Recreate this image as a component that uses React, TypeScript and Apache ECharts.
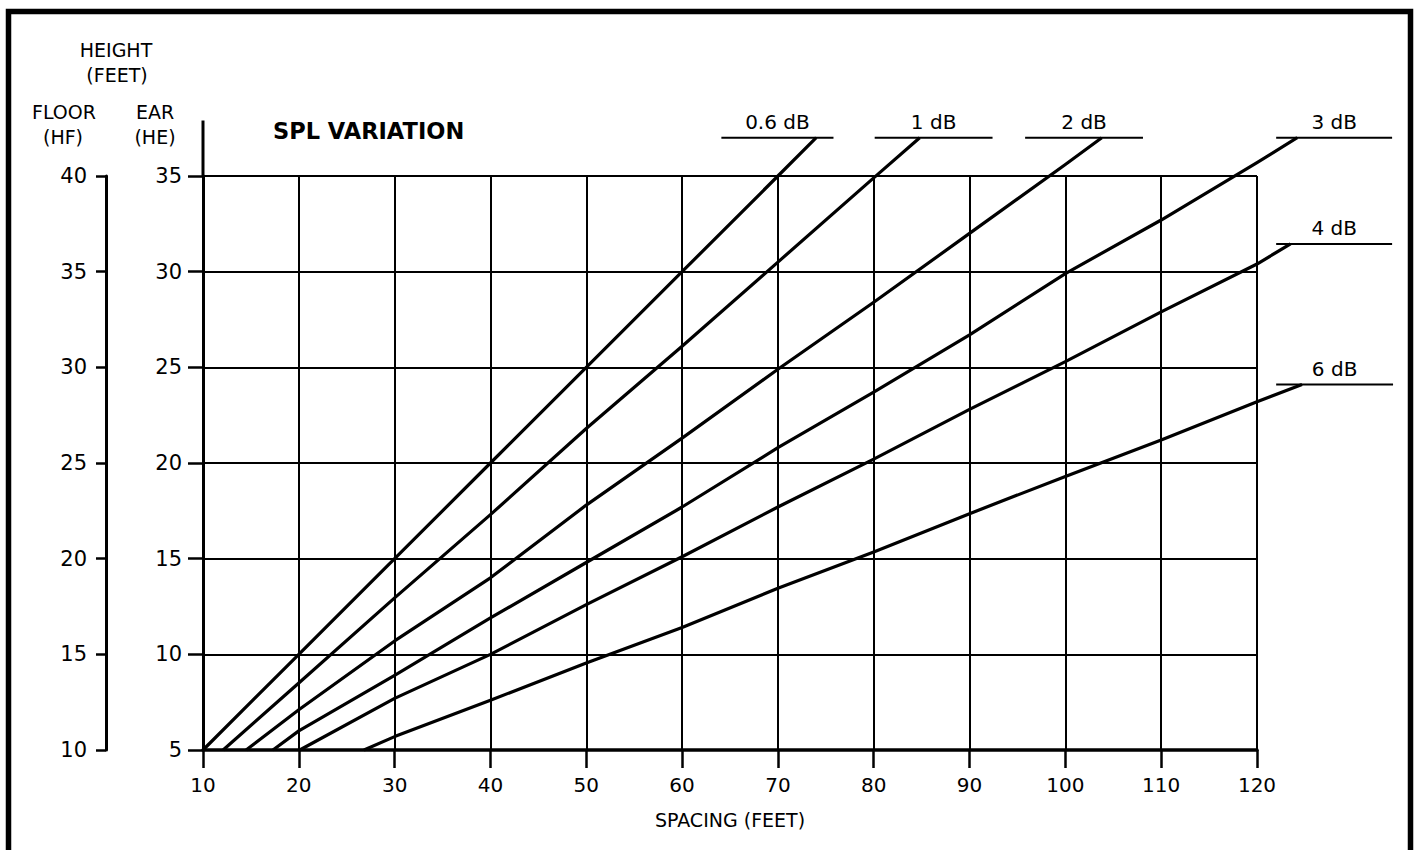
import React, { useEffect, useRef } from "react";
import * as echarts from "echarts";

// Axis ranges
const spacingTicks = { min: 10, max: 120, step: 10 };
const earTicks = { min: 5, max: 35, step: 5 };
const floorTicks = { min: 10, max: 40, step: 5 };

// Curve names
const dbNames = ["0.6 dB", "1 dB", "2 dB", "3 dB", "4 dB", "6 dB"];

// Curve values: [spacing (ft), ear height HE (ft)]
const db06 = [[10, 5], [20, 10], [30, 15], [40, 20], [50, 25], [60, 30], [70, 35], [74, 37]];
const db1 = [[12.1, 5], [20, 8.5], [30, 12.95], [40, 17.3], [50, 21.8], [60, 26.1], [70, 30.5], [80, 34.9], [84.8, 37]];
const db2 = [[14.5, 5], [20, 7.1], [30, 10.7], [40, 14.0], [50, 17.8], [60, 21.3], [70, 24.9], [80, 28.4], [90, 32.0], [100, 35.6], [103.8, 37]];
const db3 = [[17.3, 5], [20, 6.0], [30, 8.9], [40, 11.9], [50, 14.8], [60, 17.7], [70, 20.8], [80, 23.7], [90, 26.7], [100, 29.9], [110, 32.7], [120, 35.7], [124.2, 37]];
const db4 = [[20.1, 5], [30, 7.7], [40, 10.0], [50, 12.6], [60, 15.1], [70, 17.7], [80, 20.2], [90, 22.8], [100, 25.3], [110, 27.9], [120, 30.4], [123.5, 31.45]];
const db6 = [[26.8, 5], [30, 5.7], [40, 7.6], [50, 9.55], [60, 11.4], [70, 13.45], [80, 15.35], [90, 17.35], [100, 19.3], [110, 21.2], [120, 23.2], [124.7, 24.1]];
const curves = [db06, db1, db2, db3, db4, db6];

// Label leader segments: [xStart, xEnd, y]
const labelSegments = [
  [64.1, 75.8, 37],
  [80.1, 92.4, 37],
  [95.8, 108.1, 37],
  [122, 134.1, 37],
  [122, 134.1, 31.45],
  [122, 134.2, 24.1],
];

// Axis line extensions above the grid
const earAxisTop = 37.9;
const floorAxisTop = 43;

const FONT = "DejaVu Sans";

export default function App() {
  const ref = useRef<HTMLDivElement>(null);

  useEffect(() => {
    if (!ref.current) return;
    const chart = echarts.init(ref.current, undefined, { renderer: "svg" });

    const black = "#000";
    const series: any[] = [];

    curves.forEach((data, i) => {
      series.push({
        type: "custom",
        name: dbNames[i],
        coordinateSystem: "cartesian2d",
        clip: false,
        z: 5,
        encode: { x: 0, y: 1 },
        data,
        renderItem: (params: any, api: any) => {
          if (params.dataIndex !== 0) return null;
          const pts = data.map((p) => api.coord(p));
          return {
            type: "polyline",
            shape: { points: pts },
            style: { stroke: black, lineWidth: 3.2, fill: "none", lineJoin: "round" },
          };
        },
      });
    });

    series.push({
      type: "custom",
      name: "labels",
      coordinateSystem: "cartesian2d",
      clip: false,
      z: 6,
      encode: { x: [0, 1], y: 2 },
      data: labelSegments,
      renderItem: (params: any, api: any) => {
        const x0 = api.value(0);
        const x1 = api.value(1);
        const y = api.value(2);
        const a = api.coord([x0, y]);
        const b = api.coord([x1, y]);
        return {
          type: "group",
          children: [
            {
              type: "line",
              shape: { x1: a[0], y1: a[1], x2: b[0], y2: b[1] },
              style: { stroke: black, lineWidth: 2 },
            },
            {
              type: "text",
              x: (a[0] + b[0]) / 2,
              y: a[1] - 6,
              style: {
                text: dbNames[params.dataIndex],
                fill: black,
                fontSize: 20,
                fontFamily: FONT,
                align: "center",
                verticalAlign: "bottom",
              },
            },
          ],
        };
      },
    });

    // Ear axis extension
    series.push({
      type: "line",
      data: [[spacingTicks.min, earTicks.max], [spacingTicks.min, earAxisTop]],
      symbol: "none",
      clip: false,
      lineStyle: { color: black, width: 3 },
    });
    // Floor axis extension
    series.push({
      type: "line",
      yAxisIndex: 1,
      data: [[0, floorTicks.max], [0, floorAxisTop]],
      symbol: "none",
      clip: false,
      lineStyle: { color: black, width: 3 },
    });

    const headerStyle = (text: string) => ({
      text,
      fontFamily: FONT,
      fontSize: 19,
      fill: black,
      align: "center",
      verticalAlign: "middle",
    });

    const option: any = {
      animation: false,
      backgroundColor: "#fff",
      title: {
        text: "SPL VARIATION",
        left: 273,
        top: 119,
        padding: 0,
        textStyle: { fontFamily: FONT, fontWeight: "bold", fontSize: 22.5, color: black },
      },
      grid: { left: 203, right: 160, top: 176, bottom: 100, containLabel: false },
      xAxis: {
        type: "value",
        min: spacingTicks.min,
        max: spacingTicks.max,
        interval: spacingTicks.step,
        name: "SPACING (FEET)",
        nameLocation: "middle",
        nameGap: 60,
        nameTextStyle: { fontFamily: FONT, fontSize: 19, color: black },
        axisLine: { show: true, lineStyle: { color: black, width: 3.5 } },
        axisTick: { show: true, length: 18, lineStyle: { color: black, width: 2.5 } },
        axisLabel: { color: black, fontSize: 20, fontFamily: FONT, margin: 25 },
        splitLine: { show: true, lineStyle: { color: black, width: 2 } },
      },
      yAxis: [
        {
          type: "value",
          position: "left",
          min: earTicks.min,
          max: earTicks.max,
          interval: earTicks.step,
          axisLine: { show: true, lineStyle: { color: black, width: 3 } },
          axisTick: { show: true, length: 15, lineStyle: { color: black, width: 2.5 } },
          axisLabel: { color: black, fontSize: 21, fontFamily: FONT, margin: 21 },
          splitLine: { show: true, lineStyle: { color: black, width: 2 } },
        },
        {
          type: "value",
          position: "left",
          offset: 97,
          min: floorTicks.min,
          max: floorTicks.max,
          interval: floorTicks.step,
          axisLine: { show: true, onZero: false, lineStyle: { color: black, width: 3 } },
          axisTick: { show: true, length: 10, lineStyle: { color: black, width: 2.5 } },
          axisLabel: { color: black, fontSize: 21, fontFamily: FONT, margin: 19 },
          splitLine: { show: false },
        },
      ],
      graphic: [
        {
          type: "rect",
          shape: { x: 8.5, y: 11.5, width: 1402, height: 900 },
          style: { fill: "none", stroke: black, lineWidth: 5.5 },
          silent: true,
        },
        { type: "text", x: 116, y: 50, style: headerStyle("HEIGHT") },
        { type: "text", x: 117, y: 75, style: headerStyle("(FEET)") },
        { type: "text", x: 64, y: 112, style: headerStyle("FLOOR") },
        { type: "text", x: 63, y: 137, style: headerStyle("(HF)") },
        { type: "text", x: 155, y: 112, style: headerStyle("EAR") },
        { type: "text", x: 155, y: 137, style: headerStyle("(HE)") },
      ],
      series,
    };

    chart.setOption(option);
    return () => chart.dispose();
  }, []);

  return (
    <div
      ref={ref}
      style={{ position: "absolute", left: 0, top: 0, width: 1417, height: 850, background: "#fff" }}
    />
  );
}
